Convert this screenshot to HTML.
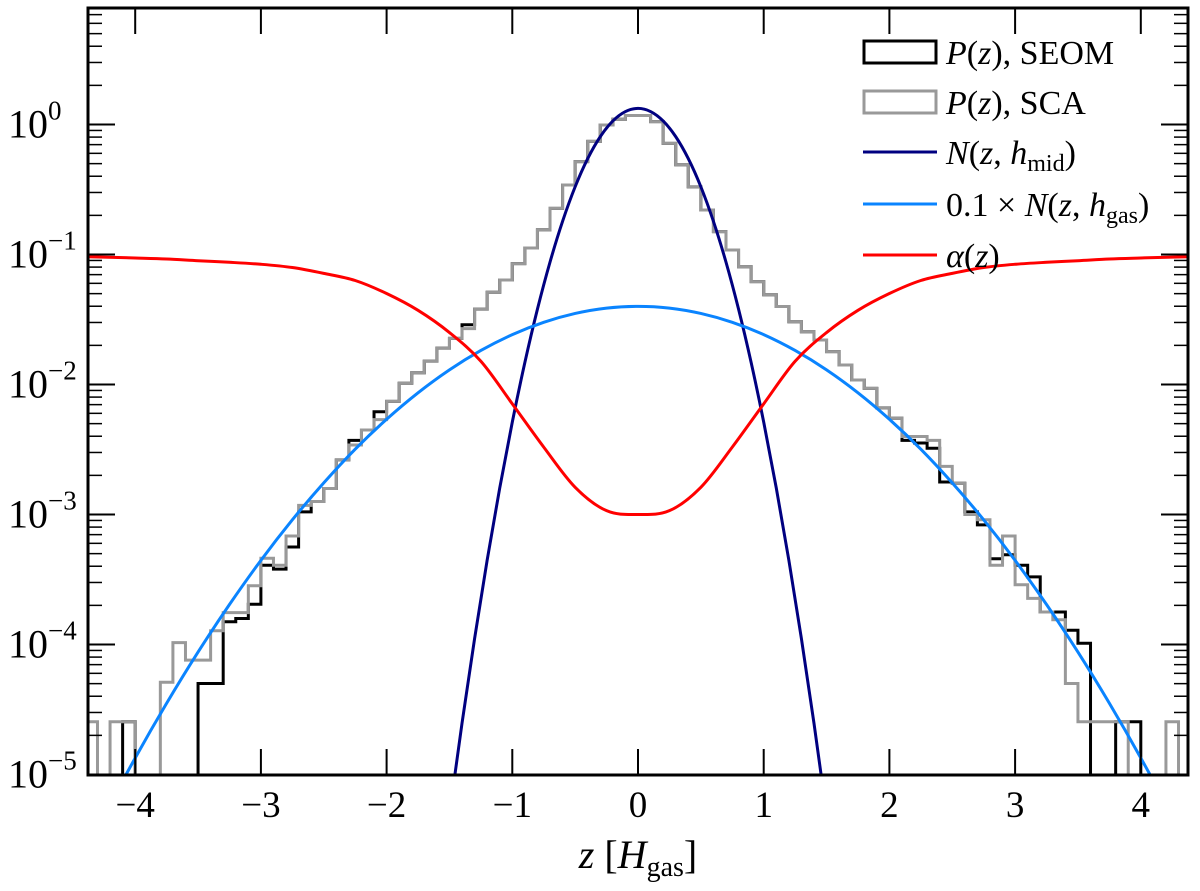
<!DOCTYPE html>
<html><head><meta charset="utf-8"><style>
html,body{margin:0;padding:0;background:#fff;}
svg{display:block;font-family:"Liberation Serif","DejaVu Serif",serif;}
</style></head><body>
<svg id="chart" width="1200" height="891" viewBox="0 0 1200 891" xmlns="http://www.w3.org/2000/svg">
<defs><clipPath id="clip"><rect x="88" y="8" width="1100" height="767"/></clipPath></defs>
<rect x="0" y="0" width="1200" height="891" fill="#fff"/>
<g id="plot" clip-path="url(#clip)"></g>
<g id="axes"></g>
<g id="legend">
  <rect x="864" y="41" width="72" height="22" fill="none" stroke="#000" stroke-width="3"/>
  <text x="946" y="64" font-size="34"><tspan font-style="italic">P</tspan>(<tspan font-style="italic">z</tspan>), SEOM</text>
  <rect x="864" y="91" width="72" height="22" fill="none" stroke="#999" stroke-width="3"/>
  <text x="946" y="114" font-size="34"><tspan font-style="italic">P</tspan>(<tspan font-style="italic">z</tspan>), SCA</text>
  <line x1="863" y1="152" x2="937" y2="152" stroke="#000080" stroke-width="3"/>
  <text x="946" y="164" font-size="34"><tspan font-style="italic">N</tspan>(<tspan font-style="italic">z</tspan>, <tspan font-style="italic">h</tspan><tspan font-size="24" dy="7">mid</tspan><tspan dy="-7">)</tspan></text>
  <line x1="863" y1="204" x2="937" y2="204" stroke="#0a84ff" stroke-width="3"/>
  <text x="946" y="216" font-size="34">0.1 × <tspan font-style="italic">N</tspan>(<tspan font-style="italic">z</tspan>, <tspan font-style="italic">h</tspan><tspan font-size="24" dy="7">gas</tspan><tspan dy="-7">)</tspan></text>
  <line x1="863" y1="255" x2="937" y2="255" stroke="#ff0000" stroke-width="3"/>
  <text x="946" y="267" font-size="34"><tspan font-style="italic">α</tspan>(<tspan font-style="italic">z</tspan>)</text>
</g>
</svg>
<script>
// ---- data ----
const binStart = -4.4, binWidth = 0.1;
// log10 of histogram values per bin (null = empty bin)
const seomLog10 = [null,null,null,-4.594,null,null,null,null,null,-4.30,-4.30,-3.825,-3.80,-3.69,-3.39,-3.42,-3.25,-2.98,-2.90,-2.80,-2.58,-2.43,-2.35,-2.21,-2.13,-1.99,-1.91,-1.82,-1.72,-1.645,-1.54,-1.42,-1.29,-1.196,-1.07,-0.95,-0.81,-0.645,-0.465,-0.286,-0.13,-0.004,0.040,0.069,
 0.069,0.022,-0.145,-0.31,-0.48,-0.658,-0.824,-0.965,-1.094,-1.209,-1.31,-1.40,-1.517,-1.594,-1.658,-1.747,-1.85,-1.965,-2.03,-2.18,-2.26,-2.43,-2.45,-2.49,-2.75,-2.76,-2.98,-3.08,-3.34,-3.31,-3.39,-3.48,-3.75,-3.75,-3.89,-3.99,null,null,-4.594,-4.594,null,null,null,null];
const scaLog10 = [-4.594,null,-4.594,-4.594,null,null,-4.29,-3.986,-4.12,-4.12,-3.894,-3.755,-3.755,-3.548,-3.337,-3.39,-3.165,-2.93,-2.90,-2.80,-2.58,-2.465,-2.35,-2.27,-2.13,-1.99,-1.91,-1.82,-1.72,-1.645,-1.57,-1.42,-1.29,-1.196,-1.07,-0.95,-0.81,-0.645,-0.465,-0.286,-0.13,-0.004,0.040,0.069,
 0.069,0.022,-0.145,-0.31,-0.48,-0.658,-0.824,-0.965,-1.094,-1.209,-1.31,-1.40,-1.517,-1.594,-1.658,-1.747,-1.85,-1.965,-2.03,-2.18,-2.26,-2.40,-2.40,-2.43,-2.63,-2.76,-3.00,-3.04,-3.39,-3.165,-3.54,-3.645,-3.75,-3.81,-4.30,-4.594,-4.594,-4.594,-4.594,null,null,null,-4.594,null];
const nMidZ = [-1.6,-1.5,-1.4,-1.3,-1.2,-1.1,-1.0,-0.9,-0.8,-0.7,-0.6,-0.5,-0.4,-0.3,-0.2,-0.1,0,0.1,0.2,0.3,0.4,0.5,0.6,0.7,0.8,0.9,1.0,1.1,1.2,1.3,1.4,1.5,1.6];
const nMidVal = [8.9e-7,4.96e-6,2.48e-5,1.11e-4,4.46e-4,1.60e-3,5.14e-3,1.477e-2,3.80e-2,8.74e-2,0.180,0.332,0.547,0.807,1.065,1.258,1.33,1.258,1.065,0.807,0.547,0.332,0.180,8.74e-2,3.80e-2,1.477e-2,5.14e-3,1.60e-3,4.46e-4,1.11e-4,2.48e-5,4.96e-6,8.9e-7];
const nGasZ = [-4.5,-4.25,-4,-3.75,-3.5,-3.25,-3,-2.75,-2.5,-2.25,-2,-1.75,-1.5,-1.25,-1,-0.75,-0.5,-0.25,0,0.25,0.5,0.75,1,1.25,1.5,1.75,2,2.25,2.5,2.75,3,3.25,3.5,3.75,4,4.25,4.5];
const nGasVal = [1.6e-6,4.78e-6,1.34e-5,3.53e-5,8.74e-5,2.03e-4,4.44e-4,9.10e-4,1.75e-3,3.18e-3,5.40e-3,8.63e-3,1.296e-2,1.827e-2,2.42e-2,3.01e-2,3.52e-2,3.87e-2,3.99e-2,3.87e-2,3.52e-2,3.01e-2,2.42e-2,1.827e-2,1.296e-2,8.63e-3,5.40e-3,3.18e-3,1.75e-3,9.10e-4,4.44e-4,2.03e-4,8.74e-5,3.53e-5,1.34e-5,4.78e-6,1.6e-6];
const alphaZ = [-4.5,-4.25,-4,-3.75,-3.5,-3.25,-3,-2.75,-2.5,-2.25,-2,-1.75,-1.5,-1.25,-1,-0.75,-0.5,-0.25,0,0.25,0.5,0.75,1,1.25,1.5,1.75,2,2.25,2.5,2.75,3,3.25,3.5,3.75,4,4.25,4.5];
const alphaVal = [0.0966,0.0955,0.094,0.0923,0.0895,0.0871,0.0841,0.0794,0.0716,0.0631,0.0501,0.0372,0.0251,0.0151,0.0071,0.0033,0.00162,0.00107,0.001,0.00107,0.00162,0.0033,0.0071,0.0151,0.0251,0.0372,0.0501,0.0631,0.0716,0.0794,0.0841,0.0871,0.0895,0.0923,0.094,0.0955,0.0966];
const xTicks = [-4,-3,-2,-1,0,1,2,3,4];
const xTickLabels = ["−4","−3","−2","−1","0","1","2","3","4"];
const yDecades = [0,-1,-2,-3,-4,-5];
const yTickLabels = ["0","−1","−2","−3","−4","−5"];

// ---- scales ----
const X0 = 638, XS = 125.7, Y0 = 124.5, YS = 130;
const L = 88, R = 1188, T = 8, B = 775;
function xs(z){ return X0 + z*XS; }
function ysLog(l){ return Y0 - l*YS; }
function ys(v){ return ysLog(Math.log10(v)); }

const NS = "http://www.w3.org/2000/svg";
const plot = document.getElementById('plot');
const axes = document.getElementById('axes');
function mk(tag, attrs, parent){ const e = document.createElementNS(NS, tag); for (const k in attrs) e.setAttribute(k, attrs[k]); parent.appendChild(e); return e; }

function stepPath(arr){
  let d = `M${xs(binStart)},${B+20}`;
  for (let i=0;i<arr.length;i++){
    const yv = arr[i]===null ? B+20 : ysLog(arr[i]);
    d += ` L${xs(binStart+i*binWidth)},${yv} L${xs(binStart+(i+1)*binWidth)},${yv}`;
  }
  d += ` L${xs(binStart+arr.length*binWidth)},${B+20}`;
  return d;
}
function smoothPath(zs, vs){
  const p = zs.map((z,i)=>[xs(z), ys(vs[i])]);
  let d = `M${p[0][0]},${p[0][1]}`;
  for (let i=0;i<p.length-1;i++){
    const p0 = p[Math.max(0,i-1)], p1=p[i], p2=p[i+1], p3=p[Math.min(p.length-1,i+2)];
    const c1 = [p1[0]+(p2[0]-p0[0])/6, p1[1]+(p2[1]-p0[1])/6];
    const c2 = [p2[0]-(p3[0]-p1[0])/6, p2[1]-(p3[1]-p1[1])/6];
    d += ` C${c1[0]},${c1[1]} ${c2[0]},${c2[1]} ${p2[0]},${p2[1]}`;
  }
  return d;
}

const h1 = mk('path', {d: stepPath(seomLog10), fill:'none', stroke:'#000', 'stroke-width':3, 'stroke-linejoin':'miter'}, plot);


const h2 = mk('path', {d: stepPath(scaLog10), fill:'none', stroke:'#999', 'stroke-width':3}, plot);


const c1 = mk('path', {d: smoothPath(nMidZ, nMidVal), fill:'none', stroke:'#000080', 'stroke-width':3}, plot);


const c2 = mk('path', {d: smoothPath(nGasZ, nGasVal), fill:'none', stroke:'#0a84ff', 'stroke-width':3}, plot);


const c3 = mk('path', {d: smoothPath(alphaZ, alphaVal), fill:'none', stroke:'#ff0000', 'stroke-width':3}, plot);



// ---- axes ----
xTicks.forEach((t,i)=>{
  const x = xs(t);
  const tb = mk('line', {x1:x, y1:B, x2:x, y2:B-26, stroke:'#000', 'stroke-width':2}, axes);
  
  
  const tt = mk('line', {x1:x, y1:T, x2:x, y2:T+26, stroke:'#000', 'stroke-width':2}, axes);
  
  
  const lb = mk('text', {x:x, y:817, 'font-size':37, 'text-anchor':'middle'}, axes);
  lb.textContent = xTickLabels[i];
  
  
});
yDecades.forEach((d,i)=>{
  const y = ysLog(d);
  [[L, L+27],[R, R-27]].forEach(([a,b])=>{
    const tk = mk('line', {x1:a, y1:y, x2:b, y2:y, stroke:'#000', 'stroke-width':2}, axes);
    
    
  });
  for (let m=2;m<=9;m++){
    const ym = ysLog(d+Math.log10(m));
    if (ym < T || ym > B) continue;
    [[L, L+14],[R, R-14]].forEach(([a,b])=>{
      const mt = mk('line', {x1:a, y1:ym, x2:b, y2:ym, stroke:'#000', 'stroke-width':1.5}, axes);
      
      
    });
  }
  const lb = mk('text', {x:8, y:y+13, 'font-size':40}, axes);
  
  
  const t1 = mk('tspan', {}, lb); t1.textContent = '10';
  const t2 = mk('tspan', {dy:-18, 'font-size':27}, lb); t2.textContent = yTickLabels[i];
});
const frame = mk('rect', {x:L, y:T, width:R-L, height:B-T, fill:'none', stroke:'#000', 'stroke-width':3}, axes);


const xt = mk('text', {x:638, y:868, 'font-size':40, 'text-anchor':'middle'}, axes);


xt.innerHTML = '<tspan font-style="italic">z</tspan> [<tspan font-style="italic">H</tspan><tspan font-size="28" dy="8">gas</tspan><tspan dy="-8">]</tspan>';
</script>
</body></html>
